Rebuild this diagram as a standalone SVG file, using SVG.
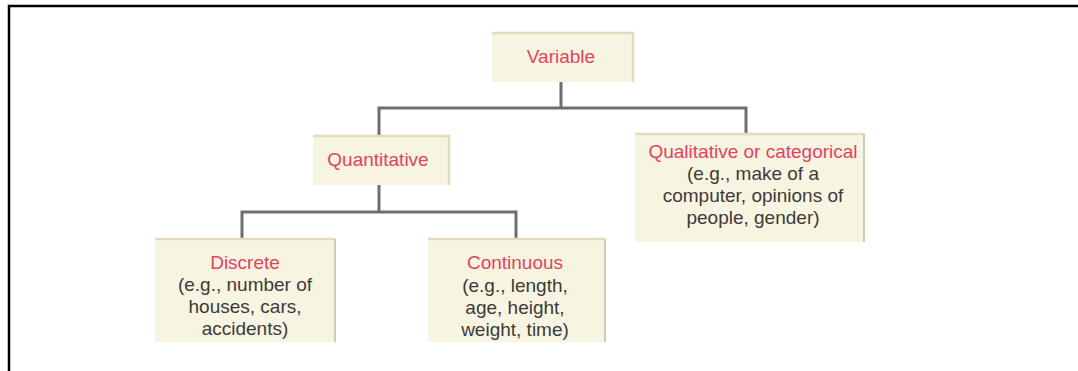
<svg xmlns="http://www.w3.org/2000/svg" width="1078" height="371" viewBox="0 0 1078 371">
<style>
.box{fill:#f7f4e2;}
.edge{fill:none;stroke:#e3dcbc;stroke-width:2.5;}
.redge{fill:none;stroke:#cfcbb8;stroke-width:2;}
.t{font-family:"Liberation Sans",Arial,sans-serif;font-size:19px;text-anchor:middle;}
.h{fill:#e2435e;}
.b{fill:#3d3b38;}
.conn{fill:none;stroke:#6e6e70;stroke-width:3;}
</style>
<rect x="0" y="0" width="1078" height="371" fill="#ffffff"/>
<path d="M9 371 V6 H1078" fill="none" stroke="#000" stroke-width="2.5"/>
<g id="connectors">
<path class="conn" d="M561 82 V108 M379 135 V108 H746 V133"/>
<path class="conn" d="M379 185 V212 M242 238 V212 H516 V238"/>
</g>
<g id="variable">
<rect class="box" x="492" y="32" width="142" height="50"/>
<path class="edge" d="M492 33 H633 V82"/>
<text class="t h" x="561" y="63">Variable</text>
</g>
<g id="quantitative">
<rect class="box" x="313" y="135" width="137" height="50"/>
<path class="edge" d="M313 136 H449 V185"/>
<text class="t h" x="378" y="166">Quantitative</text>
</g>
<g id="qualitative">
<rect class="box" x="635" y="133" width="230" height="109"/>
<path class="edge" d="M635 134 H864"/>
<path class="redge" d="M864 134 V242"/>
<text class="t h" x="753" y="158">Qualitative or categorical</text>
<text class="t b" x="753" y="180">(e.g., make of a</text>
<text class="t b" x="753" y="202">computer, opinions of</text>
<text class="t b" x="753" y="224">people, gender)</text>
</g>
<g id="discrete">
<rect class="box" x="155" y="238" width="181" height="104"/>
<path class="edge" d="M155 239 H335"/>
<path class="redge" d="M335 239 V342"/>
<text class="t h" x="245" y="269">Discrete</text>
<text class="t b" x="245" y="291">(e.g., number of</text>
<text class="t b" x="245" y="313">houses, cars,</text>
<text class="t b" x="245" y="335">accidents)</text>
</g>
<g id="continuous">
<rect class="box" x="428" y="238" width="178" height="104"/>
<path class="edge" d="M428 239 H605"/>
<path class="redge" d="M605 239 V342"/>
<text class="t h" x="515" y="269">Continuous</text>
<text class="t b" x="515" y="292">(e.g., length,</text>
<text class="t b" x="515" y="314">age, height,</text>
<text class="t b" x="515" y="336">weight, time)</text>
</g>
</svg>
